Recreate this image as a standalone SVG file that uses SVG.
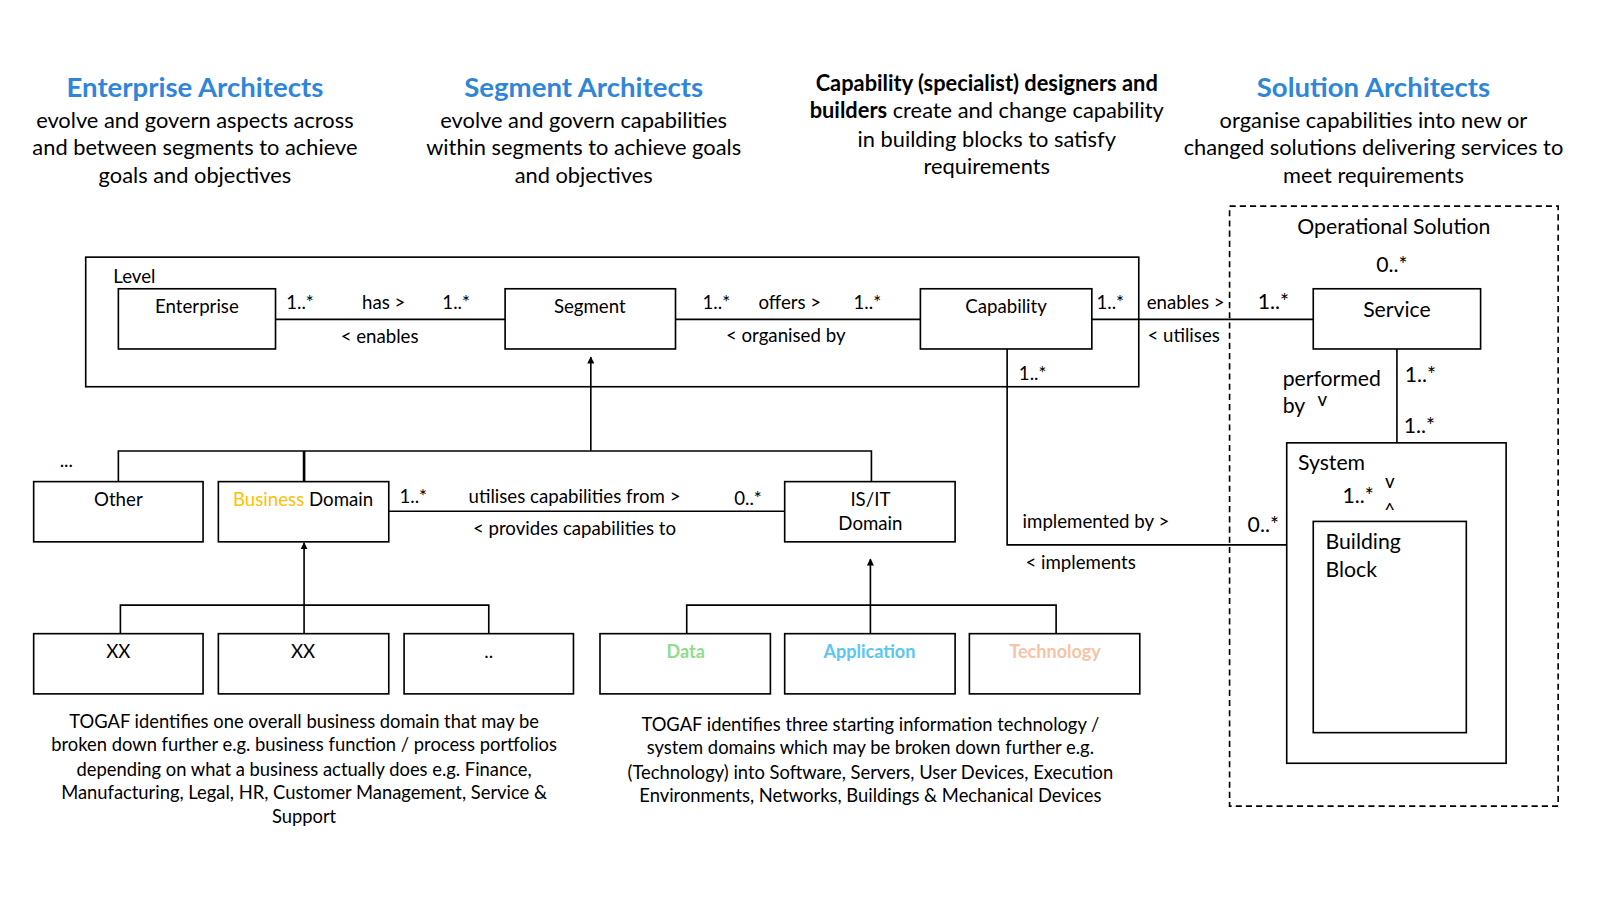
<svg xmlns="http://www.w3.org/2000/svg" width="1600" height="900" viewBox="0 0 1600 900">
<defs>
<style>
text{font-family:Lato,"Open Sans","Liberation Sans",sans-serif;fill:#000}
.h{font-size:27px;font-weight:bold;fill:#2f86d8;text-anchor:middle}
.d{font-size:21.4px;text-anchor:middle}
.b{font-weight:bold}
.n{font-size:18.3px;text-anchor:middle}
.l{font-size:18.3px}
.s{font-size:20.8px}
.sm{font-size:20.8px;text-anchor:middle}
.t{font-size:18px;text-anchor:middle}
.c{font-size:17.7px;font-weight:bold;text-anchor:middle}
.box{fill:#fff;stroke:#000;stroke-width:1.6}
.ln{fill:none;stroke:#000;stroke-width:1.6}
</style>
<marker id="arr" viewBox="0 0 10 10" refX="9" refY="5" markerWidth="7" markerHeight="7" orient="auto" markerUnits="userSpaceOnUse">
<path d="M0,0 L10,5 L0,10 z" fill="#000"/>
</marker>
</defs>
<rect width="1600" height="900" fill="#fff"/>
<g transform="scale(1.0204)">

<g id="headers">
<text class="h" x="191" y="95">Enterprise Architects</text>
<text class="d" x="191" y="125">evolve and govern aspects across</text>
<text class="d" x="191" y="152">and between segments to achieve</text>
<text class="d" x="191" y="179">goals and objectives</text>
<text class="h" x="572" y="95">Segment Architects</text>
<text class="d" x="572" y="125">evolve and govern capabilities</text>
<text class="d" x="572" y="152">within segments to achieve goals</text>
<text class="d" x="572" y="179">and objectives</text>
<text class="d b" x="967" y="89">Capability (specialist) designers and</text>
<text class="d" x="967" y="116"><tspan class="b">builders</tspan> create and change capability</text>
<text class="d" x="967" y="144">in building blocks to satisfy</text>
<text class="d" x="967" y="171">requirements</text>
<text class="h" x="1346" y="95">Solution Architects</text>
<text class="d" x="1346" y="125">organise capabilities into new or</text>
<text class="d" x="1346" y="152">changed solutions delivering services to</text>
<text class="d" x="1346" y="179">meet requirements</text>
</g>

<g id="level">
<rect class="box" x="84" y="252" width="1032" height="127"/>
<text class="l" x="111" y="277">Level</text>
</g>

<g id="operational-solution">
<rect x="1205" y="202" width="322" height="588" fill="none" stroke="#000" stroke-width="1.6" stroke-dasharray="6,4"/>
<text class="sm" x="1366" y="229">Operational Solution</text>
<text class="sm" x="1364" y="267">0..*</text>
</g>

<g id="connectors">
<line class="ln" x1="270" y1="313" x2="495" y2="313"/>
<line class="ln" x1="662" y1="313" x2="902" y2="313"/>
<line class="ln" x1="1070" y1="313" x2="1287" y2="313"/>
<polyline class="ln" points="987,342 987,534 1287,534"/>
<line class="ln" x1="1369" y1="342" x2="1369" y2="434"/>
<line class="ln" x1="381" y1="501" x2="769" y2="501"/>
<polyline class="ln" points="116,472 116,442 854,442 854,472"/>
<line x1="298" y1="442" x2="298" y2="472" stroke="#000" stroke-width="2.6"/>
<line class="ln" x1="579" y1="442" x2="579" y2="350" marker-end="url(#arr)"/>
<polyline class="ln" points="118,621 118,593 479,593 479,621"/>
<line class="ln" x1="298" y1="621" x2="298" y2="532" marker-end="url(#arr)"/>
<polyline class="ln" points="673,621 673,593 1035,593 1035,621"/>
<line class="ln" x1="853" y1="621" x2="853" y2="548" marker-end="url(#arr)"/>
<text class="n" x="294" y="303">1..*</text>
<text class="n" x="376" y="303">has &gt;</text>
<text class="n" x="447" y="303">1..*</text>
<text class="n" x="372" y="336">&lt; enables</text>
<text class="n" x="702" y="303">1..*</text>
<text class="n" x="774" y="303">offers &gt;</text>
<text class="n" x="850" y="303">1..*</text>
<text class="n" x="770" y="335">&lt; organised by</text>
<text class="n" x="1088" y="303">1..*</text>
<text class="n" x="1162" y="303">enables &gt;</text>
<text class="n" x="1160" y="335">&lt; utilises</text>
<text class="sm" x="1248" y="303">1..*</text>
<text class="n" x="1012" y="372">1..*</text>
<text class="n" x="1074" y="517">implemented by &gt;</text>
<text class="n" x="1059" y="558">&lt; implements</text>
<text class="sm" x="1238" y="521">0..*</text>
<text class="sm" x="1392" y="374">1..*</text>
<text class="sm" x="1391" y="424">1..*</text>
<text class="s" x="1257" y="378">performed</text>
<text class="s" x="1257" y="405">by</text>
<text class="n" x="1296" y="398">v</text>
<text class="n" x="405" y="493">1..*</text>
<text class="n" x="563" y="493">utilises capabilities from &gt;</text>
<text class="n" x="733" y="495">0..*</text>
<text class="n" x="563" y="524">&lt; provides capabilities to</text>
<text class="n" x="65" y="458">...</text>
</g>

<g id="enterprise"><rect class="box" x="116" y="283" width="154" height="59"/><text class="n" x="193" y="307">Enterprise</text></g>
<g id="segment"><rect class="box" x="495" y="283" width="167" height="59"/><text class="n" x="578" y="307">Segment</text></g>
<g id="capability"><rect class="box" x="902" y="283" width="168" height="59"/><text class="n" x="986" y="307">Capability</text></g>
<g id="service"><rect class="box" x="1287" y="283" width="164" height="59"/><text class="sm" x="1369" y="311">Service</text></g>

<g id="system">
<rect class="box" x="1261" y="434" width="215" height="314"/>
<text class="s" x="1272" y="461">System</text>
<text class="n" x="1362" y="478">v</text>
<text class="sm" x="1331" y="493">1..*</text>
<text class="n" x="1362" y="507">^</text>
</g>
<g id="building-block">
<rect class="box" x="1287" y="511" width="150" height="207"/>
<text class="s" x="1299" y="538">Building</text>
<text class="s" x="1299" y="565">Block</text>
</g>

<g id="other"><rect class="box" x="33" y="472" width="166" height="59"/><text class="n" x="116" y="496">Other</text></g>
<g id="business-domain"><rect class="box" x="214" y="472" width="167" height="59"/><text class="n" x="297" y="496"><tspan style="fill:#ffc000">Business</tspan> Domain</text></g>
<g id="isit-domain"><rect class="box" x="769" y="472" width="167" height="59"/><text class="n" x="853" y="496">IS/IT</text><text class="n" x="853" y="519">Domain</text></g>

<g id="xx1"><rect class="box" x="33" y="621" width="166" height="59"/><text class="n" x="116" y="645">XX</text></g>
<g id="xx2"><rect class="box" x="214" y="621" width="167" height="59"/><text class="n" x="297" y="645">XX</text></g>
<g id="dots"><rect class="box" x="396" y="621" width="166" height="59"/><text class="n" x="479" y="645">..</text></g>
<g id="data"><rect class="box" x="588" y="621" width="167" height="59"/><text class="c" x="672" y="645" style="fill:#8fdc8f">Data</text></g>
<g id="application"><rect class="box" x="769" y="621" width="167" height="59"/><text class="c" x="852" y="645" style="fill:#5cc6f2">Application</text></g>
<g id="technology"><rect class="box" x="950" y="621" width="167" height="59"/><text class="c" x="1034" y="645" style="fill:#f7c2a6">Technology</text></g>

<g id="notes">
<text class="t" x="298" y="713">TOGAF identifies one overall business domain that may be</text>
<text class="t" x="298" y="736">broken down further e.g. business function / process portfolios</text>
<text class="t" x="298" y="760">depending on what a business actually does e.g. Finance,</text>
<text class="t" x="298" y="783">Manufacturing, Legal, HR, Customer Management, Service &amp;</text>
<text class="t" x="298" y="807">Support</text>
<text class="t" x="853" y="716">TOGAF identifies three starting information technology /</text>
<text class="t" x="853" y="739">system domains which may be broken down further e.g.</text>
<text class="t" x="853" y="763">(Technology) into Software, Servers, User Devices, Execution</text>
<text class="t" x="853" y="786">Environments, Networks, Buildings &amp; Mechanical Devices</text>
</g>
</g>
</svg>
